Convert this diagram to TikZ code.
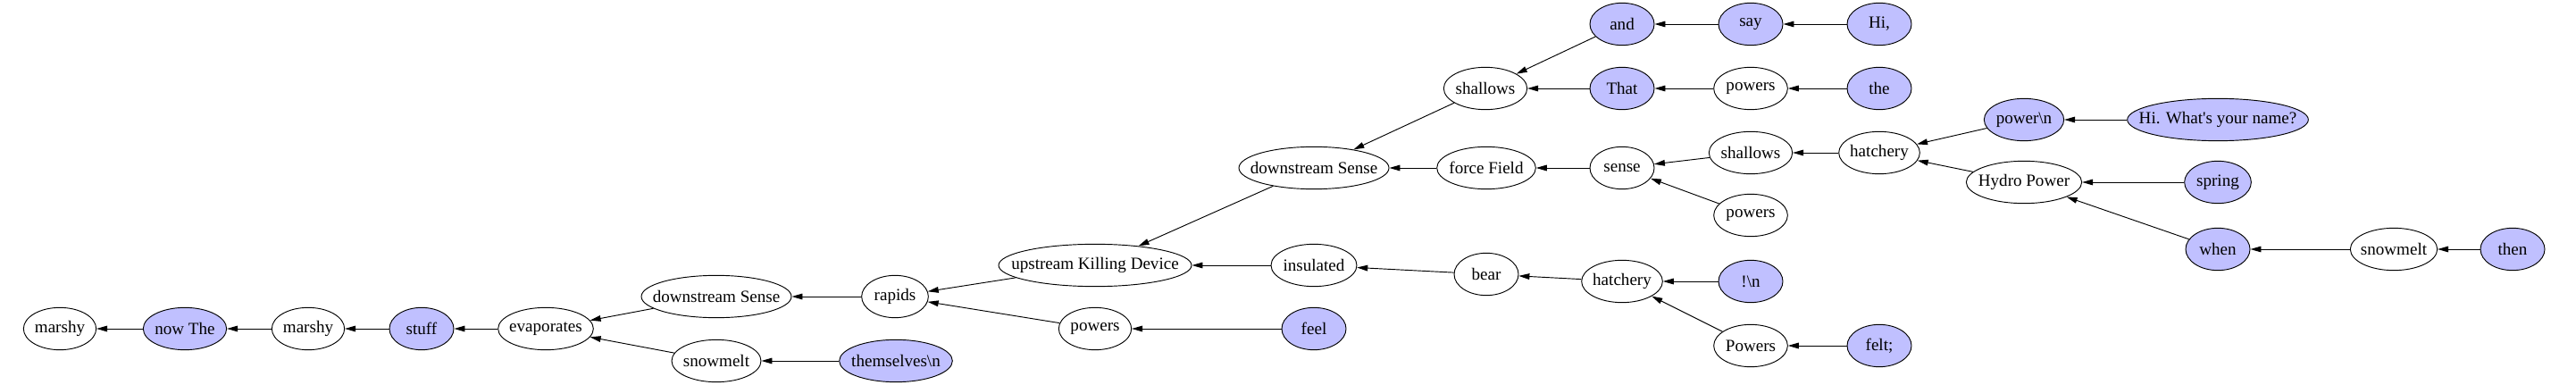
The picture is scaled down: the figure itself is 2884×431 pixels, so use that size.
\documentclass[tikz,border=0pt]{standalone}
\usepackage{fontspec}
\setmainfont{Liberation Serif}
\usetikzlibrary{arrows.meta, shapes.geometric}
\definecolor{gvFill}{HTML}{C0C0FF}
\newcommand\gvfont{\fontsize{14.3}{16}\selectfont}
\tikzset{
  gvnode/.style={
    draw, ellipse, line width=0.7pt, inner sep=0pt,
    minimum height=35.5pt, font=\gvfont, fill=#1
  },
  gvedge/.style={-{Triangle[length=9pt, width=5pt]}, line width=0.7pt}
}

\begin{document}
\begin{tikzpicture}[x=0.75pt, y=-0.75pt]
  \useasboundingbox (0,0) rectangle (2884,431);
  % nodes: name / x / y / width (pt) / fill / label
  \foreach \nm/\px/\py/\w/\fc/\txt in {
    marshyA/67/368/61/white/marshy,
    nowThe/207/368/70/gvFill/now The,
    marshyB/345/368/61/white/marshy,
    stuff/472/368/54/gvFill/stuff,
    evap/611/368/80/white/evaporates,
    dsLow/802/332/126/white/downstream Sense,
    snowLow/802/404/75/white/snowmelt,
    rapids/1002/332/56/white/rapids,
    themselves/1003/404/95/gvFill/themselves\textbackslash n,
    ukd/1226/297/162/white/upstream Killing Device,
    powLow/1226/368/61/white/powers,
    dsMid/1471/188/126/white/downstream Sense,
    insulated/1471/297/72/white/insulated,
    feel/1471/368/54/gvFill/feel,
    shalTop/1663/99/70/white/shallows,
    forceField/1664/188/83/white/force Field,
    bear/1664/307/54/white/bear,
    andN/1816/27/54/gvFill/and,
    that/1816/99/54/gvFill/That,
    sense/1816/188/54/white/sense,
    hatchLow/1816/315/68/white/hatchery,
    say/1960/27/54/gvFill/say,
    powTop/1960/99/62/white/powers,
    shalMid/1960/171/70/white/shallows,
    powMid/1960/241/62/white/powers,
    bangN/1960/315/54/gvFill/!\textbackslash n,
    Powers/1960/387/62/white/Powers,
    hiComma/2104/27/54/gvFill/{Hi,},
    the/2104/99/54/gvFill/the,
    hatchUp/2104/171/68/white/hatchery,
    felt/2104/387/54/gvFill/felt;,
    powerN/2266/134/67/gvFill/power\textbackslash n,
    hydro/2266/204/97/white/Hydro Power,
    hiName/2483/134/152/gvFill/Hi. What\textquotesingle s your name?,
    spring/2483/204/56/gvFill/spring,
    when/2483/279/54/gvFill/when,
    snowR/2680/279/73/white/snowmelt,
    thenN/2813/279/54/gvFill/then}{
    \node[gvnode=\fc, minimum width=\w pt] (\nm) at (\px,\py) {\makebox[0pt]{\txt}};
  }
  % edges: source / target
  \foreach \s/\t in {
    nowThe/marshyA, marshyB/nowThe, stuff/marshyB, evap/stuff,
    dsLow/evap, snowLow/evap, themselves/snowLow, rapids/dsLow,
    ukd/rapids, powLow/rapids, feel/powLow, dsMid/ukd,
    insulated/ukd, bear/insulated, hatchLow/bear, bangN/hatchLow,
    Powers/hatchLow, felt/Powers, shalTop/dsMid, forceField/dsMid,
    sense/forceField, shalMid/sense, powMid/sense, hatchUp/shalMid,
    powerN/hatchUp, hydro/hatchUp, hiName/powerN, spring/hydro,
    when/hydro, snowR/when, thenN/snowR, andN/shalTop,
    that/shalTop, say/andN, hiComma/say, powTop/that, the/powTop}
    \draw[gvedge] (\s) -- (\t);
\end{tikzpicture}
\end{document}
